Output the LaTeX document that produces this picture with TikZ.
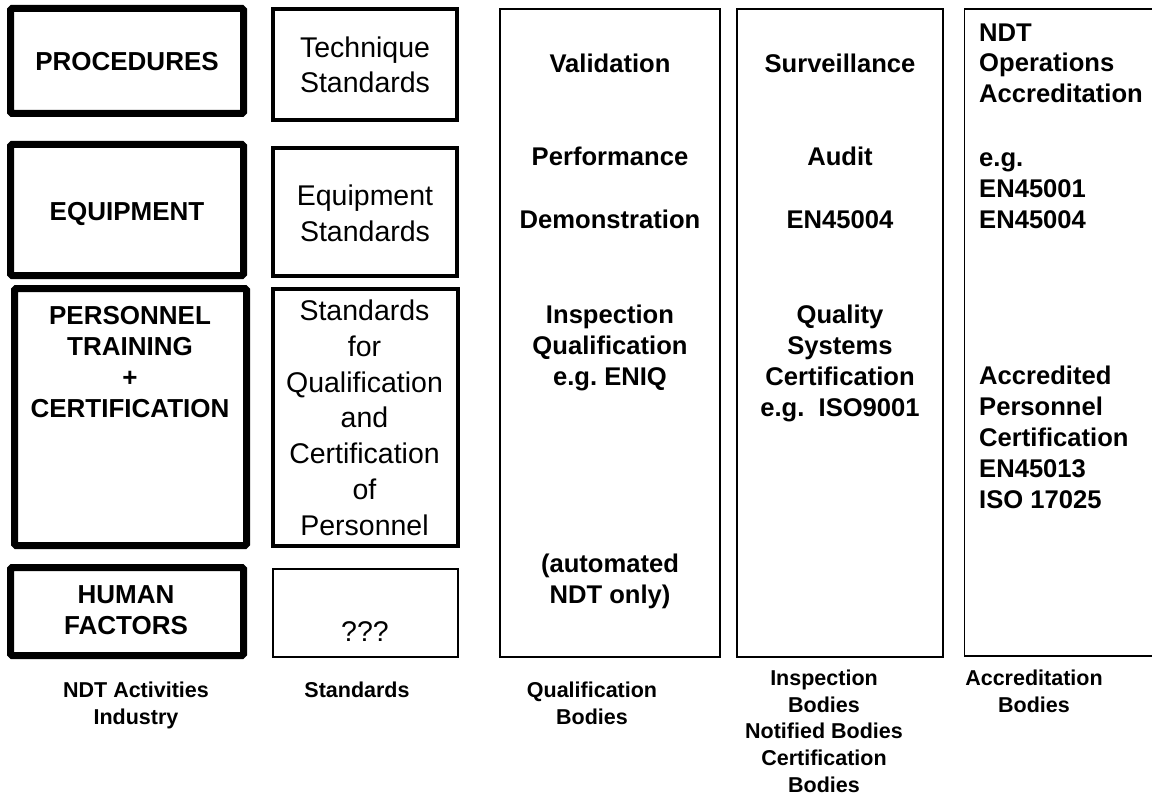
\documentclass[tikz,border=0pt]{standalone}
\usepackage{fontspec}
\setmainfont{Liberation Sans}
\frenchspacing
\begin{document}
\begin{tikzpicture}[x=1pt,y=-1pt,
  actbox/.style={draw, line width=7pt, rounded corners=1.5pt, inner sep=0},
  stdbox/.style={draw, line width=3.5pt, inner sep=0},
  openbox/.style={draw, line width=2pt, inner sep=0},
  colbox/.style={draw, line width=1.8pt, inner sep=0},
  acttxt/.style={font=\bfseries\fontsize{26}{31}\selectfont, align=center, inner sep=0, anchor=base},
  stdtxt/.style={font=\fontsize{28.5}{35.7}\selectfont, align=center, inner sep=0, anchor=base},
  coltxt/.style={font=\bfseries\fontsize{25.6}{31}\selectfont, align=center, inner sep=0, anchor=base},
  leftxt/.style={font=\bfseries\fontsize{25.6}{31}\selectfont, align=left, inner sep=0, anchor=base west},
  labtxt/.style={font=\bfseries\fontsize{21.5}{26.6}\selectfont, align=center, inner sep=0, anchor=base}]
\useasboundingbox (0,0) rectangle (1152,797);
\fill[white] (0,0) rectangle (1152,797);

% NDT activities column
\node[actbox, minimum width=233pt, minimum height=105pt] (proc) at (127,61) {};
\node[actbox, minimum width=233pt, minimum height=131pt] (equip) at (127,210) {};
\node[actbox, minimum width=232pt, minimum height=257pt] (pers) at (130.5,417) {};
\node[actbox, minimum width=233pt, minimum height=88pt] (human) at (127,611.5) {};

% standards column
\node[stdbox, minimum width=184pt, minimum height=111pt] (techstd) at (365,64.5) {};
\node[stdbox, minimum width=184pt, minimum height=128pt] (eqstd) at (365,212) {};
\node[stdbox, minimum width=185pt, minimum height=257pt] (persstd) at (365.5,417.5) {};
\node[openbox, minimum width=185pt, minimum height=88pt] (hfstd) at (365.5,613) {};

% body columns
\node[colbox, minimum width=220pt, minimum height=648pt] (qual) at (610,333) {};
\node[colbox, minimum width=206pt, minimum height=648pt] (insp) at (840,333) {};
\begin{scope}
  \clip (0,0) rectangle (1152,797);
  \node[colbox, minimum width=200pt, minimum height=647pt] (accr) at (1064.5,332.5) {};
\end{scope}

% texts of the activities (multi-line texts sit on their last baseline)
\node[acttxt] (tproc) at (127,71) {PROCEDURES};
\node[acttxt] (tequip) at (127,220) {EQUIPMENT};
\node[acttxt] (tpers) at (130,417) {PERSONNEL\\TRAINING\\+\\CERTIFICATION};
\node[acttxt] (thuman) at (126,634) {HUMAN\\FACTORS};

% texts of the standards
\node[stdtxt] (ttech) at (365,93) {Technique\\Standards};
\node[stdtxt] (teq) at (365,241) {Equipment\\Standards};
\node[stdtxt] (tpstd) at (364.5,535) {Standards\\for\\Qualification\\and\\Certification\\of\\Personnel};
\node[stdtxt] (thf) at (365,641) {???};

% qualification bodies
\node[coltxt] (tval) at (610,73) {Validation};
\node[coltxt] (tperf) at (610,166) {Performance};
\node[coltxt] (tdemo) at (610,228) {Demonstration};
\node[coltxt] (tiq) at (610,385) {Inspection\\Qualification\\e.g. ENIQ};
\node[coltxt] (tauto) at (610,603) {(automated\\NDT only)};

% inspection bodies
\node[coltxt] (tsurv) at (840,73) {Surveillance};
\node[coltxt] (taudit) at (840,166) {Audit};
\node[coltxt] (ten4) at (840,228) {EN45004};
\node[coltxt] (tqs) at (840,416) {Quality\\Systems\\Certification\\e.g.\ \ ISO9001};

% accreditation bodies
\node[leftxt] (tndt) at (979,103) {NDT\\Operations\\Accreditation};
\node[leftxt] (teg) at (979,228) {e.g.\\EN45001\\EN45004};
\node[leftxt] (tapc) at (979,508) {Accredited\\Personnel\\Certification\\EN45013\\ISO 17025};

% column captions
\node[labtxt] (lind) at (136,724.5) {NDT Activities\\Industry};
\node[labtxt] (lstd) at (357,697.5) {Standards};
\node[labtxt] (lqual) at (592,724.5) {Qualification\\Bodies};
\node[labtxt] (linsp) at (824,792) {Inspection\\Bodies\\Notified Bodies\\Certification\\Bodies};
\node[labtxt] (laccr) at (1034,712.5) {Accreditation\\Bodies};
\end{tikzpicture}
\end{document}
